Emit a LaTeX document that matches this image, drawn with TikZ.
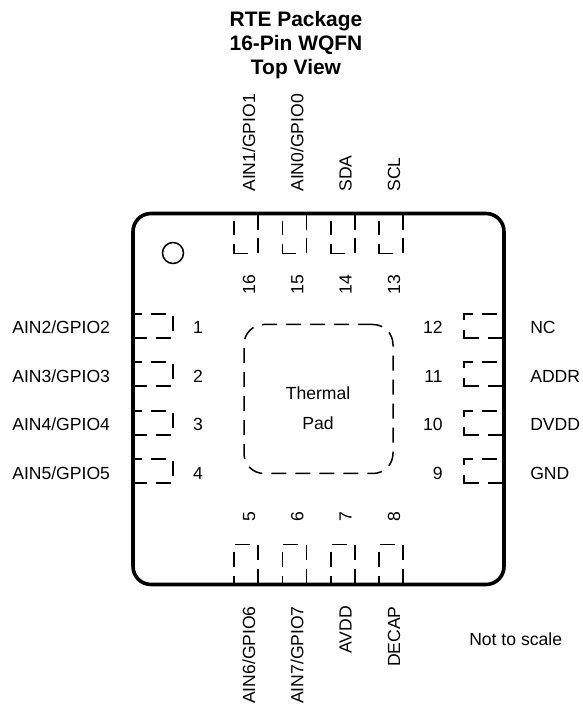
\documentclass[tikz,border=0pt]{standalone}
\usepackage{fontspec}
\setmainfont{Liberation Sans}
\usetikzlibrary{calc,positioning}

\begin{document}
\begin{tikzpicture}
\tikzset{package/.style={shape=rectangle,draw,line width=0.09cm,rounded corners=0.45cm,minimum size=9.275cm}}
\tikzset{thermalpad/.style={shape=rectangle,draw,line width=0.0375cm,rounded corners=0.5cm,minimum size=3.725cm,dash pattern=on 0.375cm off 0.225cm}}
\tikzset{toppin/.style={line width=0.0375cm,dash pattern=on 0.425cm off 0.2cm on 0.375cm off 0.25cm on 0.575cm off 0.225cm on 0.35cm off 0.2cm}}
\tikzset{bottompin/.style={line width=0.0375cm,dash pattern=on 0.375cm off 0.225cm}}
\tikzset{leftpin/.style={line width=0.0375cm,dash pattern=on 0.375cm off 0.225cm,dash phase=0.15cm}}
\tikzset{rightpin/.style={line width=0.0375cm,dash pattern=on 0.4cm off 0.225cm on 0.575cm off 0.25cm on 0.375cm off 0.225cm on 0.375cm off 0.175cm}}
\tikzset{label/.style={inner sep=0pt,font=\fontsize{12.5}{15}\selectfont}}
\def\pinl{1cm}
\def\pinw{0.6cm}
\def\topy{12.2625cm}
\def\boty{2.9875cm}
\def\leftx{3.325cm}
\def\rightx{12.6cm}
\useasboundingbox (0cm,0cm) rectangle (14.575cm,17.6cm);
%
\node at (7.4cm,16.475cm) [align=center,inner sep=0pt,font=\fontsize{14.9}{17}\selectfont\bfseries] (title) {RTE Package\\16-Pin WQFN\\Top View};
\node at (7.9625cm,7.625cm) [package] (pkg) {};
\node at (4.325cm,11.275cm) [shape=circle,draw,line width=0.0375cm,minimum size=0.525cm,inner sep=0pt] (dot) {};
\node at (7.9625cm,7.625cm) [thermalpad] (pad) {};
\node at (7.95cm,7.4cm) [label,align=center,font=\fontsize{12.5}{21.3}\selectfont] (thermal) {Thermal\\Pad};
%
\draw[leftpin] (\leftx,9.75cm) -- ++(\pinl,0cm) -- ++(0cm,-\pinw) -- ++(-\pinl,0cm);
\node at (4.95cm,9.27cm) [label,anchor=base] (num1) {1};
\node at (0.3cm,9.27cm) [label,anchor=base west] (ain2) {AIN2/GPIO2};
\draw[leftpin] (\leftx,8.55cm) -- ++(\pinl,0cm) -- ++(0cm,-\pinw) -- ++(-\pinl,0cm);
\node at (4.95cm,8.03cm) [label,anchor=base] (num2) {2};
\node at (0.3cm,8.03cm) [label,anchor=base west] (ain3) {AIN3/GPIO3};
\draw[leftpin] (\leftx,7.325cm) -- ++(\pinl,0cm) -- ++(0cm,-\pinw) -- ++(-\pinl,0cm);
\node at (4.95cm,6.825cm) [label,anchor=base] (num3) {3};
\node at (0.3cm,6.825cm) [label,anchor=base west] (ain4) {AIN4/GPIO4};
\draw[leftpin] (\leftx,6.125cm) -- ++(\pinl,0cm) -- ++(0cm,-\pinw) -- ++(-\pinl,0cm);
\node at (4.95cm,5.6cm) [label,anchor=base] (num4) {4};
\node at (0.3cm,5.6cm) [label,anchor=base west] (ain5) {AIN5/GPIO5};
%
\draw[bottompin] (6.45cm,\boty) -- ++(0cm,\pinl) -- ++(-\pinw,0cm) -- ++(0cm,-\pinl);
\node at (6.375cm,4.675cm) [label,anchor=base,rotate=90] (num5) {5};
\node at (6.375cm,2.45cm) [label,anchor=base east,rotate=90] (ain6) {AIN6/GPIO6};
\draw[bottompin] (7.66cm,\boty) -- ++(0cm,\pinl) -- ++(-\pinw,0cm) -- ++(0cm,-\pinl);
\node at (7.583cm,4.675cm) [label,anchor=base,rotate=90] (num6) {6};
\node at (7.583cm,2.45cm) [label,anchor=base east,rotate=90] (ain7) {AIN7/GPIO7};
\draw[bottompin] (8.875cm,\boty) -- ++(0cm,\pinl) -- ++(-\pinw,0cm) -- ++(0cm,-\pinl);
\node at (8.79cm,4.675cm) [label,anchor=base,rotate=90] (num7) {7};
\node at (8.79cm,2.45cm) [label,anchor=base east,rotate=90] (avdd) {AVDD};
\draw[bottompin] (10.08cm,\boty) -- ++(0cm,\pinl) -- ++(-\pinw,0cm) -- ++(0cm,-\pinl);
\node at (10cm,4.675cm) [label,anchor=base,rotate=90] (num8) {8};
\node at (10cm,2.45cm) [label,anchor=base east,rotate=90] (decap) {DECAP};
%
\draw[rightpin] (\rightx,5.525cm) -- ++(-\pinl,0cm) -- ++(0cm,\pinw) -- ++(\pinl,0cm);
\node at (11.075cm,5.6cm) [label,anchor=base east] (num9) {9};
\node at (13.25cm,5.6cm) [label,anchor=base west] (gnd) {GND};
\draw[rightpin] (\rightx,6.725cm) -- ++(-\pinl,0cm) -- ++(0cm,\pinw) -- ++(\pinl,0cm);
\node at (11.075cm,6.825cm) [label,anchor=base east] (num10) {10};
\node at (13.25cm,6.825cm) [label,anchor=base west] (dvdd) {DVDD};
\draw[rightpin] (\rightx,7.95cm) -- ++(-\pinl,0cm) -- ++(0cm,\pinw) -- ++(\pinl,0cm);
\node at (11.075cm,8.03cm) [label,anchor=base east] (num11) {11};
\node at (13.25cm,8.03cm) [label,anchor=base west] (addr) {ADDR};
\draw[rightpin] (\rightx,9.15cm) -- ++(-\pinl,0cm) -- ++(0cm,\pinw) -- ++(\pinl,0cm);
\node at (11.075cm,9.27cm) [label,anchor=base east] (num12) {12};
\node at (13.25cm,9.27cm) [label,anchor=base west] (nc) {NC};
%
\draw[toppin] (10.08cm,\topy) -- ++(0cm,-\pinl) -- ++(-\pinw,0cm) -- ++(0cm,\pinl);
\node at (10cm,10.475cm) [label,anchor=base,rotate=90] (num13) {13};
\node at (10cm,12.8cm) [label,anchor=base west,rotate=90] (scl) {SCL};
\draw[toppin] (8.875cm,\topy) -- ++(0cm,-\pinl) -- ++(-\pinw,0cm) -- ++(0cm,\pinl);
\node at (8.79cm,10.475cm) [label,anchor=base,rotate=90] (num14) {14};
\node at (8.79cm,12.8cm) [label,anchor=base west,rotate=90] (sda) {SDA};
\draw[toppin] (7.66cm,\topy) -- ++(0cm,-\pinl) -- ++(-\pinw,0cm) -- ++(0cm,\pinl);
\node at (7.583cm,10.475cm) [label,anchor=base,rotate=90] (num15) {15};
\node at (7.583cm,12.8cm) [label,anchor=base west,rotate=90] (ain0) {AIN0/GPIO0};
\draw[toppin] (6.45cm,\topy) -- ++(0cm,-\pinl) -- ++(-\pinw,0cm) -- ++(0cm,\pinl);
\node at (6.375cm,10.475cm) [label,anchor=base,rotate=90] (num16) {16};
\node at (6.375cm,12.8cm) [label,anchor=base west,rotate=90] (ain1) {AIN1/GPIO1};
%
\node at (11.725cm,1.625cm) [label,anchor=west] (scale) {Not to scale};
\end{tikzpicture}
\end{document}
